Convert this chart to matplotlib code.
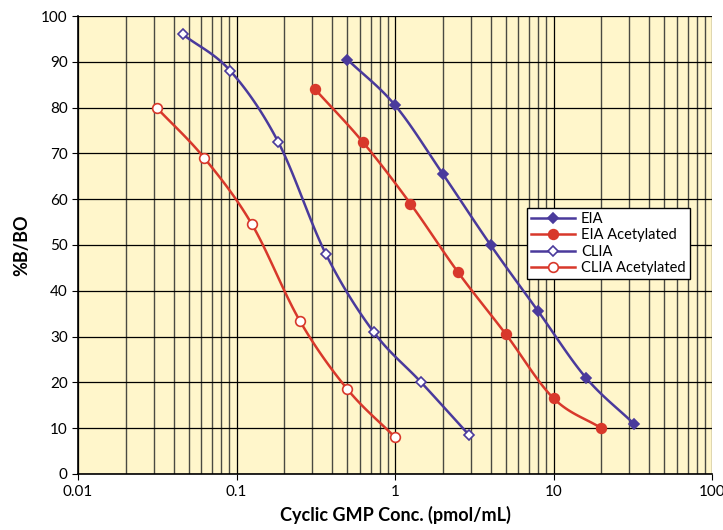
import numpy as np
import matplotlib
matplotlib.use('Agg')
import matplotlib.pyplot as plt
from matplotlib.ticker import FixedLocator, NullFormatter

plt.rcParams['font.family'] = ['Lato', 'DejaVu Sans']

# Data
eia_x = [0.5, 1, 2, 4, 8, 16, 32]
eia_y = [90.5, 80.5, 65.5, 50, 35.5, 21, 11]
eia_ac_x = [0.3125, 0.625, 1.25, 2.5, 5, 10, 20]
eia_ac_y = [84, 72.5, 59, 44, 30.5, 16.5, 10]
clia_x = [0.0457, 0.0914, 0.183, 0.366, 0.732, 1.46, 2.93]
clia_y = [96, 88, 72.5, 48, 31, 20, 8.5]
clia_ac_x = [0.03125, 0.0625, 0.125, 0.25, 0.5, 1]
clia_ac_y = [80, 69, 54.5, 33.5, 18.5, 8]

BLUE = '#4a3a9c'
RED = '#d8382b'
BG = '#fff6cb'


# Catmull-Rom smoothing in log-x space
def smooth(xs, ys, n=20):
    lx = np.log10(xs)
    y = np.asarray(ys, dtype=float)
    px = np.concatenate([[2 * lx[0] - lx[1]], lx, [2 * lx[-1] - lx[-2]]])
    py = np.concatenate([[2 * y[0] - y[1]], y, [2 * y[-1] - y[-2]]])
    out_x, out_y = [], []
    for i in range(1, len(px) - 2):
        t = np.linspace(0, 1, n, endpoint=False)
        for arr, res in ((px, out_x), (py, out_y)):
            p0, p1, p2, p3 = arr[i - 1], arr[i], arr[i + 1], arr[i + 2]
            res.extend(0.5 * ((2 * p1) + (-p0 + p2) * t
                              + (2 * p0 - 5 * p1 + 4 * p2 - p3) * t ** 2
                              + (-p0 + 3 * p1 - 3 * p2 + p3) * t ** 3))
    out_x.append(lx[-1])
    out_y.append(y[-1])
    return 10 ** np.array(out_x), np.array(out_y)


fig = plt.figure(figsize=(7.23, 5.30), dpi=100)
ax = fig.add_axes([0.108, 0.1057, 0.877, 0.8641])
ax.set_facecolor(BG)

series = [
    (eia_x, eia_y, BLUE, 'D', BLUE, 'EIA'),
    (eia_ac_x, eia_ac_y, RED, 'o', RED, 'EIA Acetylated'),
    (clia_x, clia_y, BLUE, 'D', 'white', 'CLIA'),
    (clia_ac_x, clia_ac_y, RED, 'o', 'white', 'CLIA Acetylated'),
]
for xs, ys, c, m, fc, label in series:
    sx, sy = smooth(xs, ys)
    ax.plot(sx, sy, color=c, lw=1.8, zorder=3)
    ms = 5.5 if m == 'D' else 7
    ax.plot(xs, ys, ls='none', marker=m, ms=ms, mfc=fc, mec=c, mew=1.2, zorder=4)
    ax.plot([], [], color=c, lw=1.8, marker=m, ms=ms, mfc=fc, mec=c, mew=1.2, label=label)

ax.set_xscale('log')
ax.set_xlim(0.01, 100)
ax.set_ylim(0, 100)
ax.set_yticks(np.arange(0, 101, 10))
ax.set_xticks([0.01, 0.1, 1, 10, 100])
ax.set_xticklabels(['0.01', '0.1', '1', '10', '100'])
minor = [m * 10.0 ** e for e in range(-2, 2) for m in range(2, 10)]
ax.xaxis.set_minor_locator(FixedLocator(minor))
ax.xaxis.set_minor_formatter(NullFormatter())

ax.grid(True, which='major', color='black', lw=0.9, zorder=1)
ax.grid(True, which='minor', axis='x', color='#4a4a42', lw=1.0, zorder=1)
ax.set_axisbelow(True)

for s in ['top', 'right']:
    ax.spines[s].set_visible(False)
for s in ['left', 'bottom']:
    ax.spines[s].set_color('black')
    ax.spines[s].set_linewidth(1.2)

ax.tick_params(axis='both', which='major', labelsize=11, length=4, direction='out')
ax.tick_params(axis='x', which='minor', length=0)
ax.tick_params(axis='x', pad=4)

ax.set_xlabel('Cyclic GMP Conc. (pmol/mL)', fontsize=13, fontweight='bold', labelpad=5)
ax.set_ylabel('%B/BO', fontsize=13, fontweight='bold', labelpad=8)

leg = ax.legend(loc='upper left', bbox_to_anchor=(0.708, 0.581), fontsize=10.5,
                frameon=True, fancybox=False, edgecolor='black', framealpha=1,
                handlelength=3.0, borderpad=0.3, labelspacing=0.15, handletextpad=0.4,
                borderaxespad=0)
leg.get_frame().set_linewidth(1.0)

fig.savefig('out.png', dpi=100)
